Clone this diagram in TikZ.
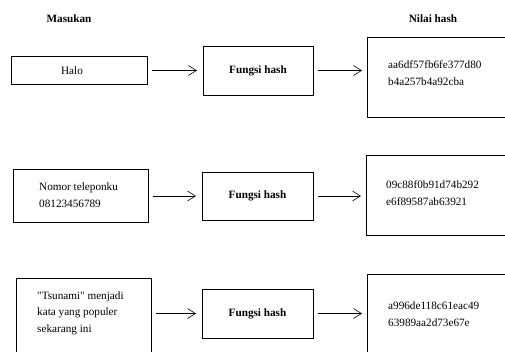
\documentclass[tikz,border=0pt]{standalone}
\usepackage{fontspec}
\setmainfont{Liberation Serif}
\newfontfamily\rawserif{Liberation Serif}
\usetikzlibrary{arrows.meta}
\begin{document}
\begin{tikzpicture}[x=1pt,y=-1pt,
  box/.style={draw=black,line width=0.8pt,inner sep=0pt,outer sep=0pt,anchor=north west},
  fbox/.style={box,minimum width=110pt,minimum height=49pt,font=\fontsize{11.2}{16.5}\selectfont\bfseries},
  txt/.style={inner sep=0pt,align=left,anchor=west,font=\fontsize{11.2}{16.5}\selectfont},
  hdr/.style={inner sep=0pt,font=\fontsize{11.2}{14}\selectfont\bfseries},
  conn/.style={line width=0.8pt,-{Straight Barb[length=8pt,width=10pt,line width=0.6pt]}}]
\useasboundingbox (0,0) rectangle (505,351);
\clip (0,0) rectangle (505,351);
% headers
\node[hdr] (hin) at (69,19) {Masukan};
\node[hdr] (hout) at (433,19) {Nilai hash};
% row 1
\node[box,minimum width=136pt,minimum height=28pt] (in1) at (11,56) {};
\node[txt,anchor=center] (tin1) at (72,71) {Halo};
\node[fbox] (f1) at (203,46) {Fungsi hash};
\node[box,minimum width=160pt,minimum height=80pt] (h1) at (367,37) {};
\node[txt] (th1) at (388,73) {aa6df57fb6fe377d80\\b4a257b4a92cba};
% row 2
\node[box,minimum width=135pt,minimum height=53pt] (in2) at (13,169) {};
\node[txt] (tin2) at (39,195) {Nomor teleponku\\08123456789};
\node[fbox,minimum width=111pt,minimum height=48pt] (f2) at (202,172) {Fungsi hash};
\node[box,minimum width=160pt,minimum height=80pt] (h2) at (366,155) {};
\node[txt] (th2) at (386,193) {09c88f0b91d74b292\\e6f89587ab63921};
% row 3
\node[box,minimum width=135pt,minimum height=90pt] (in3) at (16,278) {};
\node[txt,font=\fontsize{11.2}{16.5}\selectfont\rawserif] (tin3) at (37,313) {"Tsunami" menjadi\\kata yang populer\\sekarang ini};
\node[fbox,minimum width=111pt] (f3) at (202,289) {Fungsi hash};
\node[box,minimum width=160pt,minimum height=100pt] (h3) at (367,274) {};
\node[txt] (th3) at (388,314) {a996de118c61eac49\\63989aa2d73e67e};
% connectors
\foreach \i in {1,2,3}{
  \draw[conn,shorten <=5pt,shorten >=6pt] (f\i.west -| in\i.east) -- (f\i.west);
  \draw[conn,shorten <=5pt,shorten >=5pt] (f\i.east) -- (f\i.east -| h\i.west);
}
\end{tikzpicture}
\end{document}
